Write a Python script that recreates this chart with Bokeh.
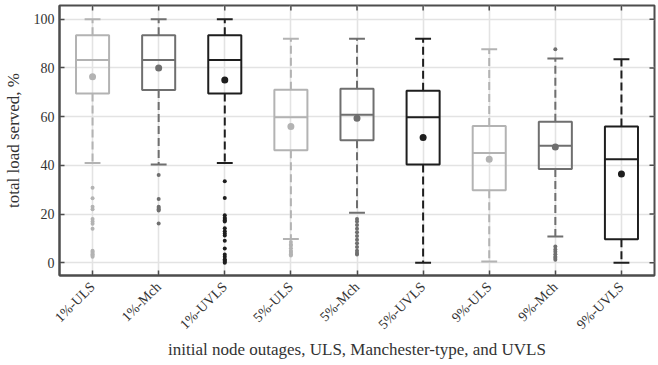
import numpy as np
from bokeh.plotting import figure
from bokeh.models import ColumnDataSource, FixedTicker, Range1d
from bokeh.embed import file_html
from bokeh.resources import INLINE

categories = ["1%-ULS", "1%-Mch", "1%-UVLS", "5%-ULS", "5%-Mch", "5%-UVLS",
              "9%-ULS", "9%-Mch", "9%-UVLS"]
kinds = ["ULS", "Mch", "UVLS"] * 3
q1 = [69.5, 70.9, 69.5, 46.2, 50.3, 40.3, 29.8, 38.5, 9.7]
median = [83.2, 83.2, 83.2, 59.7, 60.8, 59.7, 45.1, 48.0, 42.5]
q3 = [93.4, 93.4, 93.4, 71.0, 71.4, 70.6, 56.1, 57.9, 55.9]
whisker_low = [41.0, 40.3, 41.0, 9.8, 20.6, 0.0, 0.5, 10.8, 0.0]
whisker_high = [100.0, 100.0, 100.0, 92.0, 92.0, 92.0, 87.6, 83.9, 83.5]
means = [76.4, 80.0, 75.0, 55.9, 59.3, 51.4, 42.5, 47.5, 36.5]
outliers = [
    [30.8, 26.5, 23.0, 22.0, 18.0, 17.0, 16.0, 14.0, 5.0, 4.5, 4.0, 3.5, 3.0, 2.5],
    [36.0, 26.2, 23.0, 22.5, 22.0, 21.5, 16.1],
    [33.5, 26.6, 19.5, 18.5, 18.0, 17.5, 17.0, 14.2, 13.0, 12.0, 11.2, 9.1, 5.9,
     3.4, 2.5, 1.5, 1.0, 0.4, 0.0],
    [8.5, 7.5, 7.0, 6.0, 5.0, 4.5, 4.0, 3.5, 3.0],
    [18.0, 17.0, 15.5, 14.0, 12.5, 11.0, 9.5, 8.0, 6.5, 5.0, 4.0, 3.4],
    [],
    [],
    [87.6, 6.7, 5.5, 4.5, 3.5, 2.5, 2.0, 1.3],
    [],
]
y_ticks = [0, 20, 40, 60, 80, 100]

colors = {"ULS": "#b3b3b3", "Mch": "#6f6f6f", "UVLS": "#1e1e1e"}
FONT = "Liberation Serif"
FRAME = "#4d4d4d"
X0, X1 = 0.5, 9.5
Y0, Y1 = -5.2, 105.6

x = list(range(1, len(categories) + 1))
col = [colors[k] for k in kinds]
box_w = 0.5
cap_w = 0.24

p = figure(width=658, height=365, output_backend="svg", toolbar_location=None,
           x_range=Range1d(X0, X1), y_range=Range1d(Y0, Y1),
           min_border_left=59, min_border_right=4, min_border_top=5,
           min_border_bottom=90)
p.outline_line_color = FRAME
p.outline_line_width = 2
p.background_fill_color = "white"
p.border_fill_color = "white"

# grid
p.xgrid.ticker = FixedTicker(ticks=x)
p.ygrid.ticker = FixedTicker(ticks=y_ticks)
for g in (p.xgrid, p.ygrid):
    g.grid_line_color = "#e3e3e3"
    g.grid_line_width = 1.6

src = ColumnDataSource(dict(
    x=x, left=[v - box_w / 2 for v in x], right=[v + box_w / 2 for v in x],
    q1=q1, q3=q3, med=median, lo=whisker_low, hi=whisker_high, mean=means,
    cl=[v - cap_w / 2 for v in x], cr=[v + cap_w / 2 for v in x],
    ml=[v - box_w / 2 for v in x], mr=[v + box_w / 2 for v in x], color=col))

# whiskers
p.segment(x0="x", y0="q3", x1="x", y1="hi", source=src, line_color="color",
          line_width=2, line_dash="8 4")
p.segment(x0="x", y0="q1", x1="x", y1="lo", source=src, line_color="color",
          line_width=2, line_dash="8 4")
# caps
p.segment(x0="cl", y0="hi", x1="cr", y1="hi", source=src, line_color="color", line_width=2)
p.segment(x0="cl", y0="lo", x1="cr", y1="lo", source=src, line_color="color", line_width=2)
# boxes
p.quad(left="left", right="right", bottom="q1", top="q3", source=src,
       fill_color=None, line_color="color", line_width=2)
# medians
p.segment(x0="ml", y0="med", x1="mr", y1="med", source=src, line_color="color", line_width=2)
# outliers
ox, oy, oc = [], [], []
for i, vals in enumerate(outliers):
    for v in vals:
        ox.append(x[i]); oy.append(v); oc.append(col[i])
p.scatter(ox, oy, size=4, color=oc, line_color=None)
# means
p.scatter("x", "mean", source=src, size=7, color="color", line_color=None)

# mirrored inward ticks on right and top (half of each dash clipped by frame)
p.scatter([X1] * len(y_ticks), y_ticks, marker="dash", size=10,
          line_color=FRAME, line_width=1.5)
p.scatter(x, [Y1] * len(x), marker="dash", angle=np.pi / 2, size=10,
          line_color=FRAME, line_width=1.5)

# axes
def style_axis(ax):
    ax.axis_line_color = FRAME
    ax.axis_line_width = 2
    ax.major_tick_line_color = FRAME
    ax.major_tick_line_width = 1.5
    ax.major_tick_in = 5
    ax.major_tick_out = 0
    ax.minor_tick_line_color = None
    ax.major_label_text_font = FONT
    ax.major_label_text_font_size = "14px"
    ax.major_label_text_color = "#333333"
    ax.axis_label_text_font = FONT
    ax.axis_label_text_font_style = "normal"
    ax.axis_label_text_font_size = "17px"
    ax.axis_label_text_color = "#333333"

xa = p.xaxis[0]
xa.ticker = FixedTicker(ticks=x)
xa.major_label_overrides = {i + 1: c for i, c in enumerate(categories)}
xa.major_label_orientation = np.pi / 4
xa.axis_label = "initial node outages, ULS, Manchester-type, and UVLS"
style_axis(xa)
xa.major_label_standoff = 9
xa.axis_label_standoff = 0

ya = p.yaxis[0]
ya.ticker = FixedTicker(ticks=y_ticks)
ya.axis_label = "total load served, %"
style_axis(ya)
ya.major_label_standoff = 5
ya.axis_label_standoff = 8

open("out.html", "w").write(file_html(p, INLINE))
